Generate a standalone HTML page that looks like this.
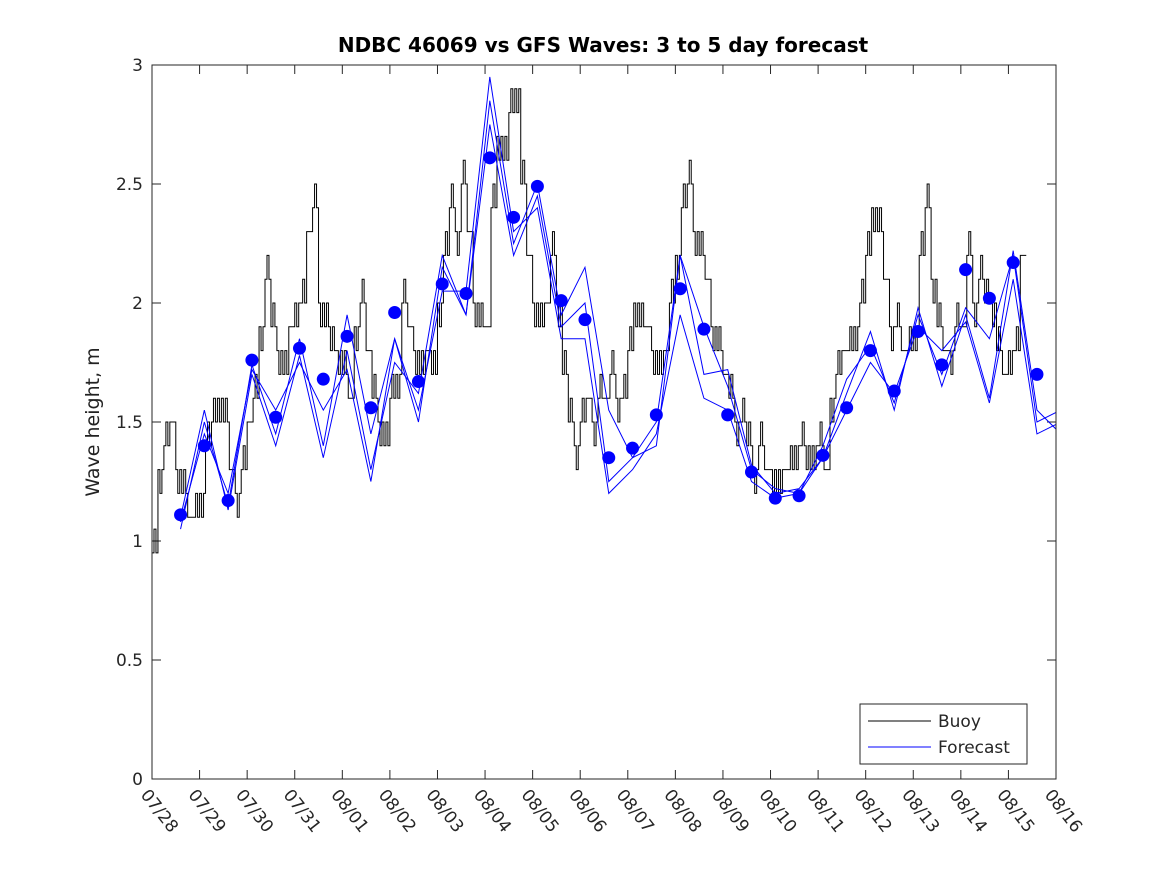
<!DOCTYPE html>
<html><head><meta charset="utf-8"><style>body{margin:0;background:#fff}svg{display:block;font-family:"DejaVu Sans","Liberation Sans",sans-serif}</style></head>
<body>
<svg id="chart" width="1167" height="875">
<defs><clipPath id="pc"><rect x="152" y="65" width="904" height="714"/></clipPath></defs>
<rect width="1167" height="875" fill="#fff"/>
<text x="603" y="52" text-anchor="middle" font-size="20" font-weight="bold">NDBC 46069 vs GFS Waves: 3 to 5 day forecast</text>
<text transform="translate(99,422) rotate(-90)" text-anchor="middle" font-size="19" fill="#222">Wave height, m</text>
<g id="axes"></g>
<g id="plot" clip-path="url(#pc)"></g>
<rect x="152" y="65" width="904" height="714" fill="none" stroke="#262626" stroke-width="1"/>
<g>
<rect x="860" y="704" width="167" height="60" fill="#fff" stroke="#262626"/>
<line x1="868" y1="721" x2="931" y2="721" stroke="#000"/>
<text x="938" y="727" font-size="17" fill="#262626">Buoy</text>
<line x1="868" y1="747" x2="931" y2="747" stroke="#0000ff"/>
<text x="938" y="753" font-size="17" fill="#262626">Forecast</text>
</g>
</svg>
<script>
const xTickLabels=["07/28","07/29","07/30","07/31","08/01","08/02","08/03","08/04","08/05","08/06","08/07","08/08","08/09","08/10","08/11","08/12","08/13","08/14","08/15","08/16"];
const yTicks=[0,0.5,1,1.5,2,2.5,3];
const buoyStepDays=0.125;
const buoyValues=[0.95,1.3,1.4,1.5,1.3,1.2,1.1,1.1,1.2,1.4,1.5,1.6,1.5,1.3,1.2,1.3,1.5,1.6,1.9,2.1,1.9,1.8,1.7,1.9,2.0,2.0,2.3,2.4,2.0,1.9,1.8,1.8,1.7,1.6,1.9,2.0,1.8,1.6,1.5,1.4,1.6,1.7,2.0,1.9,1.8,1.7,1.8,1.7,2.0,2.2,2.4,2.3,2.5,2.3,2.0,1.9,1.9,2.4,2.7,2.6,2.8,2.9,2.5,2.2,2.0,1.9,2.0,2.2,2.0,1.7,1.5,1.4,1.5,1.6,1.5,1.6,1.6,1.7,1.6,1.6,1.8,2.0,1.9,1.9,1.8,1.7,1.8,2.0,2.2,2.4,2.5,2.3,2.2,2.1,1.9,1.8,1.7,1.6,1.5,1.5,1.4,1.3,1.4,1.3,1.3,1.2,1.3,1.3,1.4,1.4,1.3,1.4,1.4,1.3,1.6,1.7,1.8,1.8,1.9,2.0,2.2,2.4,2.3,2.1,1.9,1.9,1.8,1.8,1.9,2.2,2.4,2.1,1.9,1.8,1.8,1.9,1.9,2.2,2.0,2.1,2.0,2.0,1.8,1.7,1.8,1.8,2.2];
const buoyJitter=[0.1,-0.1,0.1,0,-0.1,0.1,0,0.1,-0.1,0.1];
const dotValues=[1.11,1.40,1.17,1.76,1.52,1.81,1.68,1.86,1.56,1.96,1.67,2.08,2.04,2.61,2.36,2.49,2.01,1.93,1.35,1.39,1.53,2.06,1.89,1.53,1.29,1.18,1.19,1.36,1.56,1.80,1.63,1.88,1.74,2.14,2.02,2.17,1.70];
const forecast1=[1.05,1.50,1.15,1.74,1.45,1.85,1.40,1.95,1.45,1.85,1.50,2.15,1.95,2.85,2.25,2.50,1.95,2.15,1.55,1.35,1.40,2.20,1.70,1.72,1.32,1.20,1.22,1.35,1.62,1.88,1.55,1.98,1.65,1.95,1.60,2.22,1.55,1.45];
const forecast2=[1.10,1.55,1.13,1.70,1.40,1.78,1.35,1.80,1.30,1.75,1.62,2.20,1.95,2.75,2.20,2.45,1.90,2.00,1.25,1.35,1.50,2.20,1.90,1.65,1.30,1.22,1.20,1.40,1.68,1.82,1.58,1.95,1.70,1.98,1.85,2.20,1.50,1.55];
const forecast3=[1.08,1.45,1.20,1.72,1.55,1.75,1.55,1.72,1.25,1.85,1.55,2.05,2.05,2.95,2.30,2.40,1.85,1.85,1.20,1.30,1.45,1.95,1.60,1.55,1.25,1.18,1.20,1.35,1.55,1.75,1.62,1.90,1.80,1.92,1.58,2.10,1.45,1.50];

const NS="http://www.w3.org/2000/svg";
const X0=152,X1=1056,Y0=779,Y1=65;
const xs=d=>X0+(X1-X0)*d/19;
const ys=v=>Y0-(Y0-Y1)*v/3;
const plot=document.getElementById('plot');
const axes=document.getElementById('axes');
function mk(tag,attrs,parent){const e=document.createElementNS(NS,tag);for(const k in attrs)e.setAttribute(k,attrs[k]);(parent||plot).appendChild(e);return e;}

yTicks.forEach(v=>{
  const y=ys(v);
  const t=mk('line',{x1:X0,x2:X0+9,y1:y,y2:y,stroke:'#262626'},axes);
  
  
  const t2=mk('line',{x1:X1-9,x2:X1,y1:y,y2:y,stroke:'#262626'},axes);
  
  
  const lb=mk('text',{x:X0-9,y:y+6,'text-anchor':'end','font-size':17,fill:'#262626'},axes);
  lb.textContent=String(v);
  
  
});
xTickLabels.forEach((s,i)=>{
  const x=xs(i);
  const t=mk('line',{x1:x,x2:x,y1:Y0,y2:Y0-9,stroke:'#262626'},axes);
  
  
  const t2=mk('line',{x1:x,x2:x,y1:Y1,y2:Y1+9,stroke:'#262626'},axes);
  
  
  const lb=mk('text',{transform:`translate(${x-12},${Y0+16}) rotate(52)`,'font-size':17,fill:'#262626'},axes);
  lb.textContent=s;
  
  
});

let bp=[];
buoyValues.forEach((v,i)=>{
  const d=i*buoyStepDays, j=buoyJitter[i%buoyJitter.length];
  const q=buoyStepDays/3;
  bp.push([xs(d),ys(v)]);
  bp.push([xs(d+q),ys(v)]);
  bp.push([xs(d+q),ys(v+j)]);
  bp.push([xs(d+2*q),ys(v+j)]);
  bp.push([xs(d+2*q),ys(v)]);
  bp.push([xs(d+3*q),ys(v)]);
});
const bl=mk('polyline',{points:bp.map(p=>p.join(',')).join(' '),fill:'none',stroke:'#000','stroke-width':1});



[forecast1,forecast2,forecast3].forEach((arr,k)=>{
  const pts=arr.map((v,i)=>[xs(0.6+0.5*i),ys(v)].join(',')).join(' ');
  const l=mk('polyline',{points:pts,fill:'none',stroke:'#0000ff','stroke-width':1});
  
  
});
dotValues.forEach((v,i)=>{
  const c=mk('circle',{cx:xs(0.6+0.5*i),cy:ys(v),r:6.5,fill:'#0000ff'});
  
  
});
</script>
</body></html>
